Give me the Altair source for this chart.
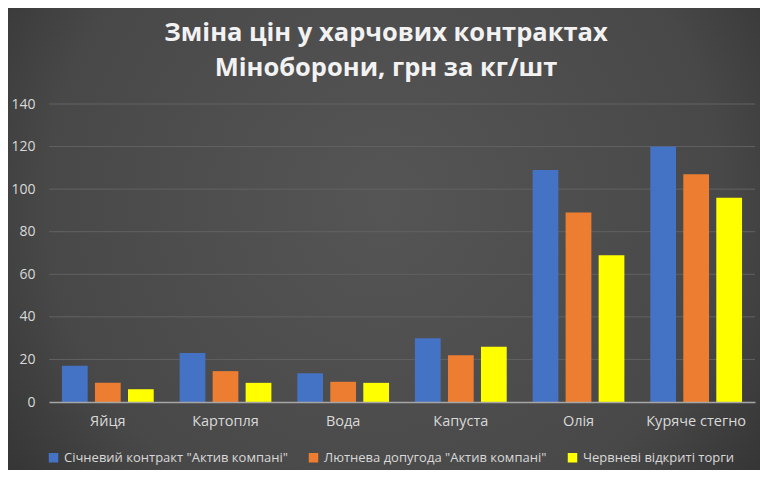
import altair as alt
import pandas as pd

# --- дані ---
categories = ["Яйця", "Картопля", "Вода", "Капуста", "Олія", "Куряче стегно"]
series = [
    'Січневий контракт "Актив компані"',
    'Лютнева допугода "Актив компані"',
    "Червневі відкриті торги",
]
jan = [17, 23, 13.5, 30, 109, 120]
feb = [9, 14.5, 9.5, 22, 89, 107]
jun = [6, 9, 9, 26, 69, 96]
y_ticks = [0, 20, 40, 60, 80, 100, 120, 140]
colors = ["#4472C4", "#ED7D31", "#FFFF00"]

rows = []
for s, vals in zip(series, [jan, feb, jun]):
    for c, v in zip(categories, vals):
        rows.append({"cat": c, "series": s, "value": v})
df = pd.DataFrame(rows)

W, H = 706, 298
PAD = {"left": 41, "top": 96, "right": 5, "bottom": 68}

# фон з радіальним градієнтом
bg = alt.Chart(pd.DataFrame({"a": [0]})).mark_rect(
    fill={
        "gradient": "radial",
        "x1": 0.5, "y1": 0.45, "r1": 0,
        "x2": 0.5, "y2": 0.45, "r2": 0.75,
        "stops": [
            {"offset": 0, "color": "#555555"},
            {"offset": 0.6, "color": "#484848"},
            {"offset": 1, "color": "#262626"},
        ],
    }
).encode(
    x=alt.value(-PAD["left"]),
    x2=alt.value(W + PAD["right"]),
    y=alt.value(-PAD["top"]),
    y2=alt.value(H + PAD["bottom"]),
)

# сітка (позаду стовпчиків)
grid = alt.Chart(pd.DataFrame({"v": y_ticks[1:]})).mark_rule(
    color="#626262", strokeWidth=1
).encode(y=alt.Y("v:Q"))

bars = alt.Chart(df).mark_bar().encode(
    x=alt.X(
        "cat:N",
        sort=categories,
        title=None,
        scale=alt.Scale(paddingInner=0.22, paddingOuter=0.11),
        axis=alt.Axis(
            labelAngle=0,
            labelColor="#d9d9d9",
            labelFontSize=14.5,
            labelPadding=12,
            ticks=False,
            domainColor="#a6a6a6",
            domainWidth=1.5,
            grid=False,
            zindex=1,
        ),
    ),
    xOffset=alt.XOffset(
        "series:N", sort=series, scale=alt.Scale(paddingInner=0.22)
    ),
    y=alt.Y(
        "value:Q",
        title=None,
        scale=alt.Scale(domain=[0, 140]),
        axis=alt.Axis(
            values=y_ticks,
            labelColor="#d9d9d9",
            labelFontSize=14,
            labelPadding=14,
            ticks=False,
            domain=False,
            grid=False,
            zindex=1,
        ),
    ),
    color=alt.Color(
        "series:N",
        sort=series,
        scale=alt.Scale(domain=series, range=colors),
        legend=alt.Legend(
            title=None,
            orient="none",
            legendX=-2,
            legendY=347,
            direction="horizontal",
            symbolType="square",
            symbolSize=90,
            symbolStrokeWidth=0,
            labelColor="#d9d9d9",
            labelFontSize=13,
            columnPadding=19,
            labelLimit=400,
        ),
    ),
)

chart = alt.layer(bg, grid, bars).properties(
    width=W,
    height=H,
    padding=PAD,
    autosize=alt.AutoSizeParams(type="none"),
    background="#3a3a3a",
    title=alt.Title(
        ["Зміна цін у харчових контрактах", "Міноборони, грн за кг/шт"],
        anchor="middle",
        color="#f2f2f2",
        fontSize=25.5,
        fontWeight="bold",
        font="Open Sans",
        lineHeight=35,
        offset=0,
        dx=-16,
        dy=73,
    ),
).configure(
    font="Open Sans",
).configure_view(
    stroke=None,
)

chart.save("out.html", embed_options={"renderer": "svg", "actions": False})
